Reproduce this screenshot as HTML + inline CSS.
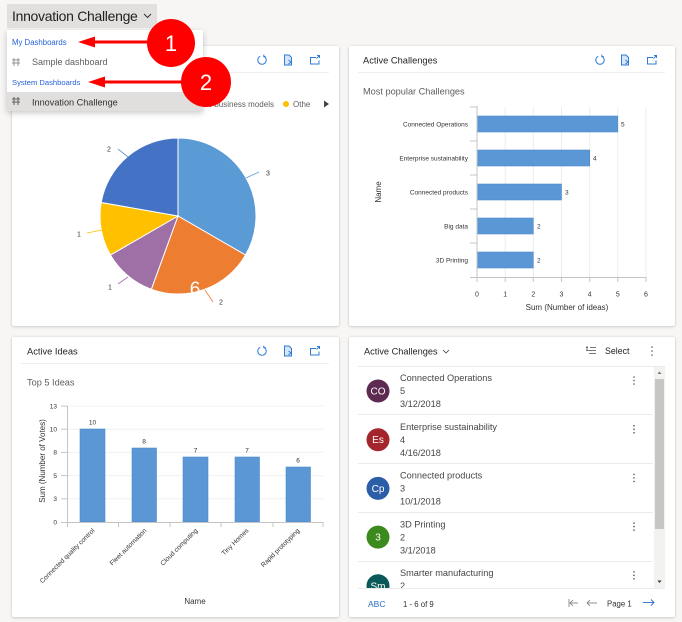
<!DOCTYPE html>
<html><head><meta charset="utf-8">
<style>
*{margin:0;padding:0;box-sizing:border-box}
html,body{width:682px;height:622px;overflow:hidden;background:#f7f6f5;font-family:"Liberation Sans",sans-serif;position:relative}
.card{position:absolute;background:#fff;border-radius:2px;box-shadow:0 0 2px rgba(0,0,0,.10),0 1px 3px rgba(0,0,0,.14)}
svg{position:absolute;left:0;top:0}
</style></head><body>
<div class="card" style="left:12px;top:46px;width:327px;height:280px"></div>
<div class="card" style="left:349px;top:46px;width:326px;height:280px"></div>
<div class="card" style="left:12px;top:337px;width:327px;height:280px"></div>
<div class="card" style="left:349px;top:337px;width:326px;height:280px"></div>

<svg width="682" height="622" viewBox="0 0 682 622" font-family="Liberation Sans, sans-serif">
<defs>
<symbol id="rf" viewBox="0 0 12 12"><path d="M4.2 2.3 A4.2 4.2 0 1 0 7.8 2.3" fill="none" stroke="#2f7bd6" stroke-width="1"/><path d="M7.8 0.6 L7.8 2.6 L9.8 2.6" fill="none" stroke="#2f7bd6" stroke-width="1"/></symbol>
<symbol id="dc" viewBox="0 0 12 12"><path d="M2.5 1 H7 L9.5 3.5 V11 H2.5 Z" fill="#d6e6f7" stroke="#2f7bd6" stroke-width="1"/><path d="M6.5 6 L9 8 L6.5 10" fill="none" stroke="#2f7bd6" stroke-width="1"/></symbol>
<symbol id="ex" viewBox="0 0 12 12"><path d="M7 3.5 H1.5 V10 H10 V6.5" fill="none" stroke="#2f7bd6" stroke-width="1"/><path d="M8 1.5 H10.5 V4 M10.5 1.5 L7.5 4.5" fill="none" stroke="#2f7bd6" stroke-width="1"/></symbol>
<clipPath id="lc"><rect x="349" y="367" width="305" height="221"/></clipPath>
</defs>

<!-- Card 1 : pie -->
<use href="#rf" x="256" y="54" width="12" height="12"/>
<use href="#dc" x="282" y="54" width="12" height="12"/>
<use href="#ex" x="309" y="54" width="12" height="12"/>
<line x1="21" y1="72.5" x2="329" y2="72.5" stroke="#f0efee" stroke-width="1"/>
<text x="196" y="106.8" font-size="8" fill="#605e5c" textLength="78" lengthAdjust="spacing">New business models</text>
<circle cx="286" cy="104" r="3" fill="#ffc000"/>
<text x="293" y="106.8" font-size="8" fill="#605e5c">Othe</text>
<path d="M324 100.5 L329 104 L324 107.5 Z" fill="#444"/>

<g stroke="#fff" stroke-width="1">
<path d="M178,216 L178,138 A78,78 0 0 1 245.55,255 Z" fill="#5b9bd5"/>
<path d="M178,216 L245.55,255 A78,78 0 0 1 151.32,289.3 Z" fill="#ed7d31"/>
<path d="M178,216 L151.32,289.3 A78,78 0 0 1 110.45,255 Z" fill="#9e70a6"/>
<path d="M178,216 L110.45,255 A78,78 0 0 1 101.19,202.46 Z" fill="#ffc000"/>
<path d="M178,216 L101.19,202.46 A78,78 0 0 1 178,138 Z" fill="#4472c4"/>
</g>
<line x1="246" y1="178" x2="259" y2="172" stroke="#5b9bd5" stroke-width="0.8"/>
<line x1="205" y1="290" x2="213" y2="302" stroke="#ed7d31" stroke-width="0.8"/>
<line x1="128" y1="277" x2="118" y2="284" stroke="#9e70a6" stroke-width="0.8"/>
<line x1="102" y1="230" x2="87" y2="233" stroke="#ffc000" stroke-width="0.8"/>
<line x1="128" y1="157" x2="118" y2="149" stroke="#4472c4" stroke-width="0.8"/>
<g font-size="7" fill="#333" text-anchor="middle">
<text x="268" y="175.5">3</text>
<text x="221" y="304.5">2</text>
<text x="110" y="289.5">1</text>
<text x="79" y="236.5">1</text>
<text x="109" y="151.5">2</text>
</g>
<text x="195" y="295" font-size="19" fill="#fff" text-anchor="middle">6</text>

<!-- Card 2 : horizontal bars -->
<text x="363" y="63.3" font-size="9.3" fill="#201f1e">Active Challenges</text>
<use href="#rf" x="594" y="54" width="12" height="12"/>
<use href="#dc" x="619" y="54" width="12" height="12"/>
<use href="#ex" x="646" y="54" width="12" height="12"/>
<line x1="358" y1="72.5" x2="665" y2="72.5" stroke="#f0efee" stroke-width="1"/>
<text x="363" y="94.3" font-size="9.2" fill="#605e5c">Most popular Challenges</text>
<g stroke="#ececec" stroke-width="1">
<line x1="505.2" y1="107" x2="505.2" y2="277"/><line x1="533.3" y1="107" x2="533.3" y2="277"/>
<line x1="561.5" y1="107" x2="561.5" y2="277"/><line x1="589.7" y1="107" x2="589.7" y2="277"/>
<line x1="617.8" y1="107" x2="617.8" y2="277"/><line x1="646" y1="107" x2="646" y2="277"/>
</g>
<g fill="#5b97d5" stroke="#4f8acb" stroke-width="0.6">
<rect x="477" y="116" width="140.8" height="16"/>
<rect x="477" y="150" width="112.7" height="16"/>
<rect x="477" y="184" width="84.5" height="16"/>
<rect x="477" y="218" width="56.3" height="16"/>
<rect x="477" y="252" width="56.3" height="16"/>
</g>
<g stroke="#c4c4c4" stroke-width="1">
<line x1="477" y1="106" x2="477" y2="277"/>
<line x1="470" y1="277.5" x2="646" y2="277.5"/>
<line x1="470" y1="107" x2="477" y2="107"/><line x1="470" y1="141" x2="477" y2="141"/>
<line x1="470" y1="175" x2="477" y2="175"/><line x1="470" y1="209" x2="477" y2="209"/>
<line x1="470" y1="243" x2="477" y2="243"/>
<line x1="477" y1="277" x2="477" y2="282"/><line x1="505.2" y1="277" x2="505.2" y2="282"/>
<line x1="533.3" y1="277" x2="533.3" y2="282"/><line x1="561.5" y1="277" x2="561.5" y2="282"/>
<line x1="589.7" y1="277" x2="589.7" y2="282"/><line x1="617.8" y1="277" x2="617.8" y2="282"/>
<line x1="646" y1="277" x2="646" y2="282"/>
</g>
<g font-size="6.5" fill="#333" text-anchor="end">
<text x="468" y="126.3">Connected Operations</text>
<text x="468" y="160.3">Enterprise sustainability</text>
<text x="468" y="194.3">Connected products</text>
<text x="468" y="228.3">Big data</text>
<text x="468" y="262.3">3D Printing</text>
</g>
<g font-size="6.5" fill="#333">
<text x="621" y="126.3">5</text><text x="593" y="160.3">4</text>
<text x="565" y="194.3">3</text><text x="537" y="228.3">2</text><text x="537" y="262.3">2</text>
</g>
<g font-size="7" fill="#333" text-anchor="middle">
<text x="477" y="296.5">0</text><text x="505.2" y="296.5">1</text><text x="533.3" y="296.5">2</text>
<text x="561.5" y="296.5">3</text><text x="589.7" y="296.5">4</text><text x="617.8" y="296.5">5</text>
<text x="646" y="296.5">6</text>
</g>
<text x="567" y="310" font-size="8" fill="#333" text-anchor="middle">Sum (Number of ideas)</text>
<text transform="translate(381,192) rotate(-90)" font-size="8" fill="#333" text-anchor="middle">Name</text>

<!-- Card 3 : vertical bars -->
<text x="27" y="354.3" font-size="9.3" fill="#201f1e">Active Ideas</text>
<use href="#rf" x="256" y="345" width="12" height="12"/>
<use href="#dc" x="282" y="345" width="12" height="12"/>
<use href="#ex" x="309" y="345" width="12" height="12"/>
<line x1="21" y1="363.5" x2="329" y2="363.5" stroke="#f0efee" stroke-width="1"/>
<text x="27" y="385.3" font-size="9.2" fill="#605e5c">Top 5 Ideas</text>
<g stroke="#f0f0f0" stroke-width="1">
<line x1="67" y1="406" x2="323" y2="406"/><line x1="67" y1="429.2" x2="323" y2="429.2"/>
<line x1="67" y1="452.4" x2="323" y2="452.4"/><line x1="67" y1="475.6" x2="323" y2="475.6"/>
<line x1="67" y1="498.8" x2="323" y2="498.8"/>
</g>
<g fill="#5b97d5" stroke="#4f8acb" stroke-width="0.6">
<rect x="80" y="429" width="25" height="93"/>
<rect x="132" y="448" width="24.5" height="74"/>
<rect x="183" y="457" width="25" height="65"/>
<rect x="235" y="457" width="24.5" height="65"/>
<rect x="286" y="467" width="24.5" height="55"/>
</g>
<g stroke="#c4c4c4" stroke-width="1">
<line x1="67.5" y1="406" x2="67.5" y2="522"/>
<line x1="61" y1="522.5" x2="323" y2="522.5"/>
<line x1="61" y1="406" x2="67" y2="406"/><line x1="61" y1="429.2" x2="67" y2="429.2"/>
<line x1="61" y1="452.4" x2="67" y2="452.4"/><line x1="61" y1="475.6" x2="67" y2="475.6"/>
<line x1="61" y1="498.8" x2="67" y2="498.8"/>
<line x1="67.5" y1="522" x2="67.5" y2="527"/><line x1="118.5" y1="522" x2="118.5" y2="527"/>
<line x1="170" y1="522" x2="170" y2="527"/><line x1="221" y1="522" x2="221" y2="527"/>
<line x1="273" y1="522" x2="273" y2="527"/><line x1="323" y1="522" x2="323" y2="527"/>
</g>
<g font-size="6.5" fill="#333" text-anchor="end">
<text x="57" y="408.3">13</text><text x="57" y="431.5">10</text><text x="57" y="454.7">8</text>
<text x="57" y="477.9">5</text><text x="57" y="501.1">3</text><text x="57" y="524.3">0</text>
</g>
<g font-size="6.5" fill="#333" text-anchor="middle">
<text x="92.5" y="424.3">10</text><text x="144" y="443.3">8</text><text x="195.5" y="452.3">7</text>
<text x="247" y="452.3">7</text><text x="298" y="462.3">6</text>
</g>
<g font-size="6.6" fill="#333" text-anchor="end">
<text transform="translate(95,531) rotate(-45)">Connected quality control</text>
<text transform="translate(147,531) rotate(-45)">Fleet automation</text>
<text transform="translate(198,531) rotate(-45)">Cloud computing</text>
<text transform="translate(249,531) rotate(-45)">Tiny Homes</text>
<text transform="translate(300,531) rotate(-45)">Rapid prototyping</text>
</g>
<text transform="translate(45,461) rotate(-90)" font-size="8" fill="#333" text-anchor="middle">Sum (Number of Votes)</text>
<text x="195" y="604" font-size="8" fill="#333" text-anchor="middle">Name</text>

<!-- Card 4 : list -->
<text x="364" y="354.3" font-size="9.2" fill="#201f1e">Active Challenges</text>
<polyline points="443,350 446,353 449,350" fill="none" stroke="#444" stroke-width="0.8"/>
<g stroke="#555" stroke-width="0.8">
<line x1="586" y1="347.5" x2="588" y2="347.5"/><line x1="590" y1="347.5" x2="596" y2="347.5"/>
<line x1="586" y1="350.5" x2="596" y2="350.5"/><line x1="589" y1="353.5" x2="596" y2="353.5"/>
<line x1="587" y1="346" x2="587" y2="350"/>
</g>
<text x="605" y="354.2" font-size="8.8" fill="#201f1e">Select</text>
<g fill="#555"><circle cx="652" cy="347" r="0.8"/><circle cx="652" cy="351" r="0.8"/><circle cx="652" cy="355" r="0.8"/></g>
<line x1="358" y1="366.5" x2="665" y2="366.5" stroke="#edebe9" stroke-width="1"/>
<g clip-path="url(#lc)" font-size="9.2" fill="#484644">
<text x="400" y="381.2">Connected Operations</text><text x="400" y="394.2">5</text><text x="400" y="407.2">3/12/2018</text>
<circle cx="378" cy="391" r="11.5" fill="#5d2a51"/><text x="378" y="394.5" fill="#fff" font-size="10" text-anchor="middle">CO</text>
<line x1="358" y1="414.5" x2="653" y2="414.5" stroke="#edebe9"/>
<text x="400" y="429.9">Enterprise sustainability</text><text x="400" y="442.9">4</text><text x="400" y="455.9">4/16/2018</text>
<circle cx="378" cy="439.7" r="11.5" fill="#a4262c"/><text x="378" y="443.2" fill="#fff" font-size="10" text-anchor="middle">Es</text>
<line x1="358" y1="463.5" x2="653" y2="463.5" stroke="#edebe9"/>
<text x="400" y="478.6">Connected products</text><text x="400" y="491.6">3</text><text x="400" y="504.6">10/1/2018</text>
<circle cx="378" cy="488.4" r="11.5" fill="#2c5ea8"/><text x="378" y="491.9" fill="#fff" font-size="10" text-anchor="middle">Cp</text>
<line x1="358" y1="512.5" x2="653" y2="512.5" stroke="#edebe9"/>
<text x="400" y="527.3">3D Printing</text><text x="400" y="540.3">2</text><text x="400" y="553.3">3/1/2018</text>
<circle cx="378" cy="537.1" r="11.5" fill="#3c8a1e"/><text x="378" y="540.6" fill="#fff" font-size="10" text-anchor="middle">3</text>
<line x1="358" y1="561.5" x2="653" y2="561.5" stroke="#edebe9"/>
<text x="400" y="576">Smarter manufacturing</text><text x="400" y="589">2</text>
<circle cx="378" cy="585.8" r="11.5" fill="#0b5858"/><text x="378" y="589.3" fill="#fff" font-size="10" text-anchor="middle">Sm</text>
<g fill="#555">
<circle cx="634" cy="377" r="0.8"/><circle cx="634" cy="380.5" r="0.8"/><circle cx="634" cy="384" r="0.8"/>
<circle cx="634" cy="425.7" r="0.8"/><circle cx="634" cy="429.2" r="0.8"/><circle cx="634" cy="432.7" r="0.8"/>
<circle cx="634" cy="474.4" r="0.8"/><circle cx="634" cy="477.9" r="0.8"/><circle cx="634" cy="481.4" r="0.8"/>
<circle cx="634" cy="523.1" r="0.8"/><circle cx="634" cy="526.6" r="0.8"/><circle cx="634" cy="530.1" r="0.8"/>
<circle cx="634" cy="571.8" r="0.8"/><circle cx="634" cy="575.3" r="0.8"/><circle cx="634" cy="578.8" r="0.8"/>
</g>
</g>
<rect x="654" y="367" width="11" height="221" fill="#f3f2f1"/>
<rect x="655" y="379" width="9" height="150" fill="#c8c6c4"/>
<path d="M657.5 374 L659.5 371.5 L661.5 374 Z" fill="#777"/>
<path d="M657.5 580.5 L659.5 583 L661.5 580.5 Z" fill="#333"/>
<line x1="358" y1="588.5" x2="665" y2="588.5" stroke="#edebe9" stroke-width="1"/>
<text x="368" y="607" font-size="8.5" fill="#2b6cc4">ABC</text>
<text x="403" y="607" font-size="7.8" fill="#323130">1 - 6 of 9</text>
<g stroke="#777" stroke-width="0.8" fill="none">
<line x1="569" y1="599" x2="569" y2="607"/><line x1="570" y1="603" x2="578" y2="603"/><polyline points="573,600 570,603 573,606"/>
<line x1="587" y1="603" x2="597" y2="603"/><polyline points="590,600 587,603 590,606"/>
</g>
<text x="607" y="606.5" font-size="7.8" fill="#323130">Page 1</text>
<g stroke="#2b6cc4" stroke-width="0.9" fill="none">
<line x1="643" y1="602.5" x2="654" y2="602.5"/><polyline points="651,599.5 654,602.5 651,605.5"/>
</g>
</svg>

<div style="position:absolute;left:7px;top:30px;width:196px;height:81px;background:#fff;box-shadow:0 2px 6px rgba(0,0,0,.22)"></div>

<svg width="682" height="622" viewBox="0 0 682 622" font-family="Liberation Sans, sans-serif">
<rect x="7" y="4" width="150" height="24" fill="#e1e0de"/>
<text x="12" y="21" font-size="14" letter-spacing="-0.3" fill="#201f1e">Innovation Challenge</text>
<polyline points="144,14 147.5,17.5 151,14" fill="none" stroke="#333" stroke-width="1"/>
<rect x="7" y="92" width="196" height="19" fill="#e1dfdd"/>
<text x="12" y="44.8" font-size="7.8" fill="#2562d8">My Dashboards</text>
<g stroke="#8a8886" stroke-width="0.9">
<line x1="14" y1="58" x2="14" y2="66"/><line x1="18" y1="58" x2="18" y2="66"/>
<line x1="12" y1="60" x2="20" y2="60"/><line x1="12" y1="63" x2="20" y2="63"/>
</g>
<text x="32" y="65.2" font-size="9" fill="#605e5c">Sample dashboard</text>
<text x="12" y="85" font-size="7.6" fill="#2562d8">System Dashboards</text>
<g stroke="#555" stroke-width="0.9">
<line x1="14" y1="97" x2="14" y2="105"/><line x1="18" y1="97" x2="18" y2="105"/>
<line x1="12" y1="99" x2="20" y2="99"/><line x1="12" y1="102" x2="20" y2="102"/>
</g>
<text x="32" y="105.3" font-size="9.15" fill="#323130">Innovation Challenge</text>

<!-- annotations -->
<line x1="92" y1="42" x2="152" y2="42" stroke="#f00" stroke-width="3"/>
<path d="M78 42 L95 36.5 L95 47.5 Z" fill="#f00"/>
<line x1="102" y1="82" x2="186" y2="82" stroke="#f00" stroke-width="3"/>
<path d="M88 82 L105 76.5 L105 87.5 Z" fill="#f00"/>
<circle cx="171" cy="43" r="24" fill="#f00"/>
<text x="171" y="51" font-size="22" fill="#fff" text-anchor="middle">1</text>
<circle cx="206" cy="82" r="25" fill="#f00"/>
<text x="206" y="90" font-size="22" fill="#fff" text-anchor="middle">2</text>
</svg>
</body></html>
